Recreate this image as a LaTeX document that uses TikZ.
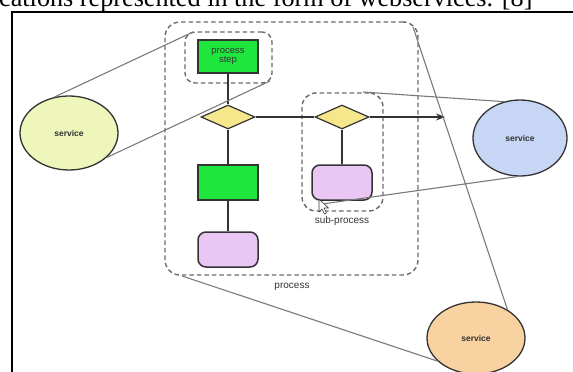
\documentclass[tikz,border=0pt]{standalone}
\usepackage{fontspec}
\setmainfont{Liberation Serif}
\setsansfont{Liberation Sans}
\usetikzlibrary{shapes.geometric,arrows.meta}
\definecolor{pgreen}{HTML}{1EE63C}
\definecolor{pyellow}{HTML}{F6E68C}
\definecolor{ppink}{HTML}{EAC6F4}
\definecolor{sgreen}{HTML}{EEF6BC}
\definecolor{sblue}{HTML}{C8D6F6}
\definecolor{sorange}{HTML}{F8D2A0}
\definecolor{dgray}{HTML}{333333}
\definecolor{lgray}{HTML}{7A7A7A}
\definecolor{dashgray}{HTML}{6A6A6A}
\tikzset{
  grp/.style={draw=dashgray, line width=1.4pt, dash pattern=on 4.5pt off 3pt, inner sep=0pt},
  stepbox/.style={draw=dgray, line width=1.3pt, fill=pgreen, minimum width=60pt, inner sep=0pt,
     font=\sffamily\fontsize{9.5}{10}\selectfont, text=dgray, align=center},
  gate/.style={diamond, draw=dgray, line width=1.2pt, fill=pyellow, minimum width=54pt, minimum height=24pt, inner sep=0pt},
  endbox/.style={draw=dgray, line width=1.5pt, fill=ppink, rounded corners=8pt, minimum width=60pt, minimum height=35pt, inner sep=0pt},
  svc/.style={ellipse, draw=dgray, line width=1.3pt, inner sep=0pt, font=\sffamily\bfseries\fontsize{8.5}{9}\selectfont, text=dgray},
  flow/.style={draw=dgray, line width=1.3pt},
  link/.style={draw=lgray, line width=1.1pt},
  lbl/.style={font=\sffamily\fontsize{10}{11}\selectfont, text=dgray, inner sep=0pt}
}
\begin{document}
\begin{tikzpicture}[x=1pt,y=-1pt]
\path[use as bounding box] (0,0) rectangle (573,372);
\clip (0,0) rectangle (573,372);
\fill[white] (0,0) rectangle (573,372);
% caption fragment
\node[anchor=base west, inner sep=0pt, font=\fontsize{26.2}{26}\selectfont] (cap) at (-1,6) {cations represented in the form of webservices. [8]};
% frame
\draw[line width=2pt, black] (12,374) -- (12,12) -- (575,12);
% groups
\node[grp, rounded corners=15pt, minimum width=253pt, minimum height=253pt] (proc) at (291.5,148.5) {};
\node[grp, rounded corners=10pt, minimum width=87pt, minimum height=51pt] (psgrp) at (228.5,57.5) {};
\node[grp, rounded corners=14pt, minimum width=81pt, minimum height=118pt] (subgrp) at (342.5,152) {};
% flow nodes
\node[stepbox, minimum height=33pt] (g1) at (228,56.5) {process\\[-1pt]step};
\node[gate] (d1) at (228,117) {};
\node[stepbox, minimum height=35pt] (g2) at (228,182.5) {};
\node[endbox] (p2) at (228,249.5) {};
\node[gate] (d2) at (342,117) {};
\node[endbox] (p1) at (342,182.5) {};
\coordinate (arr) at (445,117);
\draw[flow] (g1) -- (d1);
\draw[flow] (d1) -- (g2);
\draw[flow] (g2) -- (p2);
\draw[flow] (d1) -- (d2);
\draw[flow] (d2) -- (p1);
\draw[flow, -{Stealth[length=9pt,width=7pt]}] (d2) -- (arr);
% labels
\node[lbl] (sublbl) at (342,221) {sub-process};
\node[lbl] (proclbl) at (292,287) {process};
% services
\node[svc, fill=sgreen, minimum width=98pt, minimum height=74pt] (s1) at (69,133) {service};
\node[svc, fill=sblue, minimum width=94pt, minimum height=76pt] (s2) at (520,138) {service};
\node[svc, fill=sorange, minimum width=98pt, minimum height=72pt] (s3) at (476,338) {service};
% link end points
\coordinate (a1) at (193,32);
\coordinate (a2) at (270,81);
\coordinate (b1) at (363,92);
\coordinate (b2) at (322,204);
\coordinate (c1) at (413,27);
\coordinate (c2) at (182,276);
\draw[link] (s1.112) -- (a1);
\draw[link] (s1.-33) -- (a2);
\draw[link] (s2.114) -- (b1);
\draw[link] (s2.-94) -- (b2);
\draw[link] (s3.42) -- (c1);
\draw[link] (s3.-149) -- (c2);
% mouse pointer
\draw[fill=white, draw=dgray, line width=0.6pt, line join=round]
  (319,199) -- (319,212) -- (322,209) -- (324.5,214) -- (326.5,213) -- (324,208) -- (328.5,208) -- cycle;
\end{tikzpicture}
\end{document}
